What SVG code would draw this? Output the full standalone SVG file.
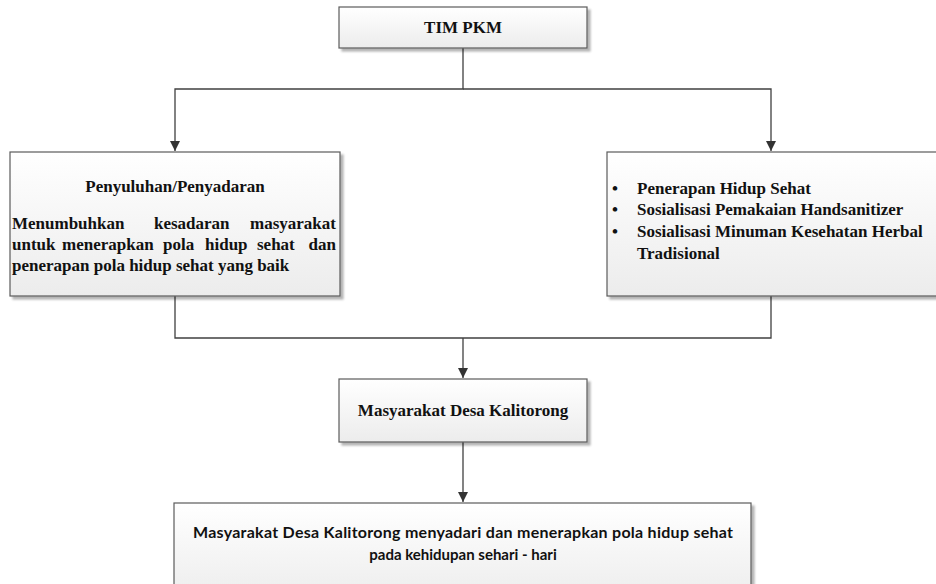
<svg xmlns="http://www.w3.org/2000/svg" width="936" height="584" viewBox="0 0 936 584">
<defs>
<linearGradient id="g" x1="0" y1="0" x2="0" y2="1">
<stop offset="0" stop-color="#ffffff"/>
<stop offset="1" stop-color="#ececec"/>
</linearGradient>
<marker id="arr" viewBox="0 0 10 10" refX="10" refY="5" markerWidth="10" markerHeight="10" markerUnits="userSpaceOnUse" orient="auto">
<path d="M0,0 L10,5 L0,10 Z" fill="#333"/>
</marker>
<filter id="sh" x="-5%" y="-5%" width="115%" height="120%">
<feGaussianBlur in="SourceAlpha" stdDeviation="1"/>
<feOffset dx="3" dy="3" result="o"/>
<feComponentTransfer><feFuncA type="linear" slope="0.3"/></feComponentTransfer>
<feMerge><feMergeNode/><feMergeNode in="SourceGraphic"/></feMerge>
</filter>
</defs>
<style>
.box{fill:url(#g);stroke:#5a5a5a;stroke-width:1.2;filter:url(#sh)}
.t{font-family:"Liberation Serif","Times New Roman",serif;font-weight:bold;font-size:17px;fill:#111}
.c{font-family:Lato,"Liberation Sans",sans-serif;font-weight:bold;font-size:16px;fill:#111}
.ln{fill:none;stroke:#404040;stroke-width:1.3}
</style>
<g id="connectors">
<path class="ln" d="M463,48 V89 H175 V151" marker-end="url(#arr)"/>
<path class="ln" d="M463,89 H771 V151" marker-end="url(#arr)"/>
<path class="ln" d="M175,296 V338 H771 V296"/>
<path class="ln" d="M463,338 V378" marker-end="url(#arr)"/>
<path class="ln" d="M463,442 V502" marker-end="url(#arr)"/>
</g>
<g id="tim-pkm">
<rect class="box" x="339" y="7" width="248" height="41"/>
<text class="t" x="463" y="33" text-anchor="middle">TIM PKM</text>
</g>
<g id="penyuluhan">
<rect class="box" x="10" y="152" width="330" height="144"/>
<text class="t" x="175" y="192" text-anchor="middle">Penyuluhan/Penyadaran</text>
<text class="t" y="229"><tspan x="12">Menumbuhkan</tspan><tspan x="154">kesadaran</tspan><tspan x="336" text-anchor="end">masyarakat</tspan></text>
<text class="t" y="250"><tspan x="12">untuk</tspan><tspan x="62">menerapkan</tspan><tspan x="163">pola</tspan><tspan x="205">hidup</tspan><tspan x="257">sehat</tspan><tspan x="336" text-anchor="end">dan</tspan></text>
<text class="t" x="12" y="271">penerapan pola hidup sehat yang baik</text>
</g>
<g id="penerapan">
<rect class="box" x="607" y="152" width="333" height="144"/>
<text class="t" x="612" y="194">•</text>
<text class="t" x="637" y="194">Penerapan Hidup Sehat</text>
<text class="t" x="612" y="215">•</text>
<text class="t" x="637" y="215">Sosialisasi Pemakaian Handsanitizer</text>
<text class="t" x="612" y="237">•</text>
<text class="t" x="637" y="237">Sosialisasi Minuman Kesehatan Herbal</text>
<text class="t" x="637" y="259">Tradisional</text>
</g>
<g id="masyarakat">
<rect class="box" x="339" y="379" width="248" height="63"/>
<text class="t" x="463" y="416" text-anchor="middle">Masyarakat Desa Kalitorong</text>
</g>
<g id="hasil">
<rect class="box" x="174" y="503" width="577" height="100"/>
<text class="c" x="463" y="538" text-anchor="middle" textLength="540" lengthAdjust="spacing">Masyarakat Desa Kalitorong menyadari dan menerapkan pola hidup sehat</text>
<text class="c" x="463" y="560" text-anchor="middle" style="font-size:15px">pada kehidupan sehari - hari</text>
</g>
</svg>
